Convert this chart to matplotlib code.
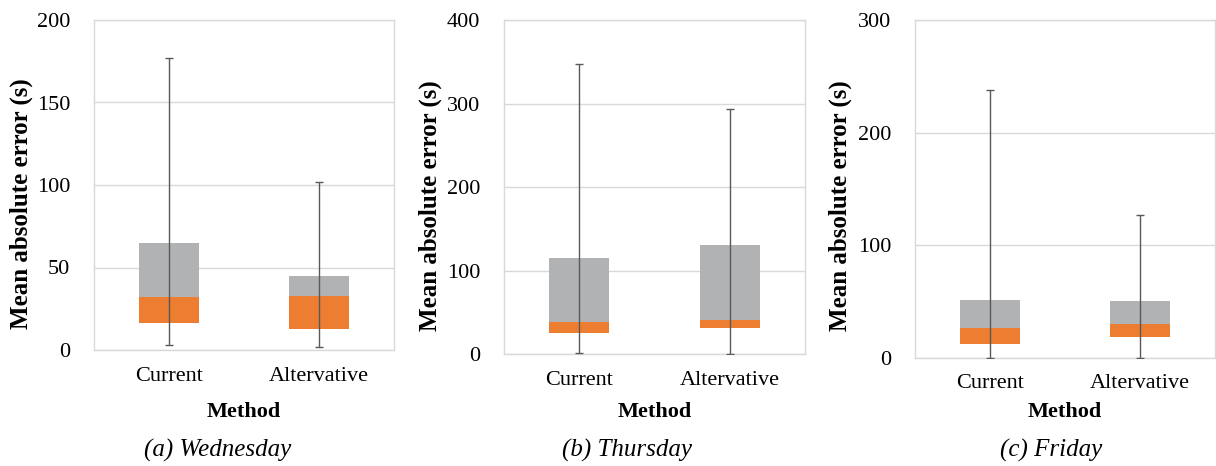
import matplotlib
matplotlib.use("Agg")
import matplotlib.pyplot as plt
import numpy as np

plt.rcParams['font.family'] = ['Liberation Serif', 'DejaVu Serif']

methods = ["Current", "Altervative"]
days = ["(a) Wednesday", "(b) Thursday", "(c) Friday"]
ymax = [200, 400, 300]
ystep = [50, 100, 100]

# per day: [Current, Alternative]
mins = [[3, 2], [2, 0], [0, 0]]
q1s = [[16.5, 12.5], [26, 32], [12, 18.5]]
medians = [[32, 32.5], [39, 41], [26.5, 30]]
q3s = [[65, 45], [115, 131], [51.5, 50]]
maxs = [[177, 102], [347, 293], [238, 127]]

ORANGE = "#ED7D31"
GRAY = "#B1B2B4"
GRID = "#D9D9D9"
WHISK = "#595959"

W, H = 1216, 466
fig = plt.figure(figsize=(W / 100, H / 100), dpi=100)

# axes boxes in pixels: left, right, top, bottom
boxes = [(94, 394, 20, 350), (504, 805, 20, 354.3), (914.7, 1215, 20, 357.7)]
ylab_x = [21, 430, 840]
ylab_y = [204, 206, 206]
cap_x = [218, 627, 1051]

for i in range(3):
    l, r, t, b = boxes[i]
    ax = fig.add_axes([l / W, (H - b) / H, (r - l) / W, (b - t) / H])
    x = np.arange(len(methods))
    q1 = np.array(q1s[i]); med = np.array(medians[i]); q3 = np.array(q3s[i])
    lo = np.array(mins[i]); hi = np.array(maxs[i])
    ax.bar(x, med - q1, bottom=q1, width=0.4, color=ORANGE, zorder=2)
    ax.bar(x, q3 - med, bottom=med, width=0.4, color=GRAY, zorder=2)
    ax.errorbar(x, med, yerr=[med - lo, hi - med], fmt='none', ecolor=WHISK,
                elinewidth=1.0, capsize=3, capthick=1.0, zorder=3)
    ax.set_xlim(-0.5, 1.5)
    ax.set_ylim(0, ymax[i])
    ax.set_yticks(np.arange(0, ymax[i] + 1, ystep[i]))
    ax.set_xticks(x)
    ax.set_xticklabels(methods)
    ax.tick_params(axis='y', length=0, pad=17, labelsize=16)
    ax.tick_params(axis='x', length=0, pad=12, labelsize=16)
    ax.grid(axis='y', color=GRID, linewidth=1.0, zorder=0)
    ax.set_axisbelow(True)
    for s in ax.spines.values():
        s.set_color(GRID)
        s.set_linewidth(1.0)
    fig.text(ylab_x[i] / W, (H - ylab_y[i]) / H, "Mean absolute error (s)",
             rotation=90, ha='center', va='center', fontsize=18, fontweight='bold')
    fig.text(((l + r) / 2) / W, (H - 411.7) / H, "Method", ha='center', va='center',
             fontsize=16, fontweight='bold')
    fig.text(cap_x[i] / W, (H - 450.5) / H, days[i], ha='center', va='center',
             fontsize=18, fontstyle='italic')

fig.savefig("out.png", dpi=100)
